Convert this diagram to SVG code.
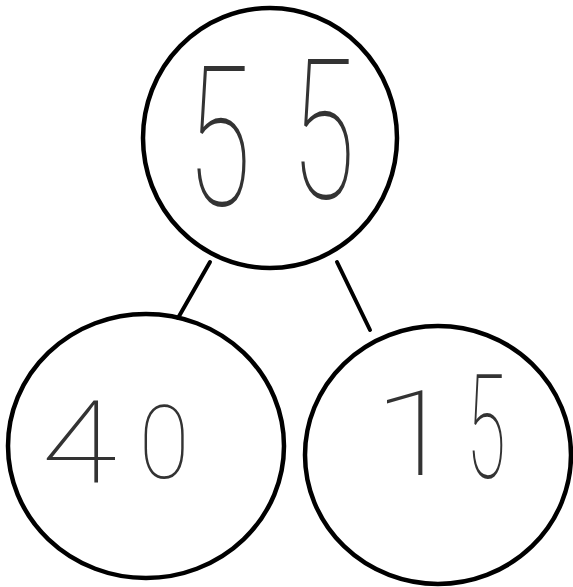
<svg xmlns="http://www.w3.org/2000/svg" width="573" height="587" viewBox="0 0 573 587">
<style>
.c{fill:none;stroke:#000;stroke-width:4.5}
.l{stroke:#000;stroke-width:4;stroke-linecap:round}
.t{font-family:Roboto,"DejaVu Sans",sans-serif;font-weight:100;fill:#333;text-anchor:middle}
</style>
<rect width="573" height="587" fill="#fff"/>
<g id="connectors">
<line class="l" x1="210" y1="262" x2="178" y2="318"/>
<line class="l" x1="337" y1="262" x2="370" y2="330"/>
</g>
<g id="node-55">
<ellipse class="c" cx="270" cy="138" rx="127" ry="130"/>
<text class="t" font-size="195" transform="translate(219,205) scale(0.6,1)">5</text>
<text class="t" font-size="195" transform="translate(323,198) scale(0.6,1)">5</text>
</g>
<g id="node-40">
<ellipse class="c" cx="146" cy="446" rx="138" ry="132"/>
<text class="t" font-size="115" transform="translate(79,482) scale(1.2,1)">4</text>
<text class="t" font-size="102" transform="translate(164,478) scale(0.9,1)">0</text>
</g>
<g id="node-15">
<ellipse class="c" cx="438" cy="455" rx="133" ry="129"/>
<text class="t" font-size="118" transform="translate(415,475) scale(1.3,1)">1</text>
<text class="t" font-size="144" transform="translate(486,478) scale(0.5,1)">5</text>
</g>
</svg>
